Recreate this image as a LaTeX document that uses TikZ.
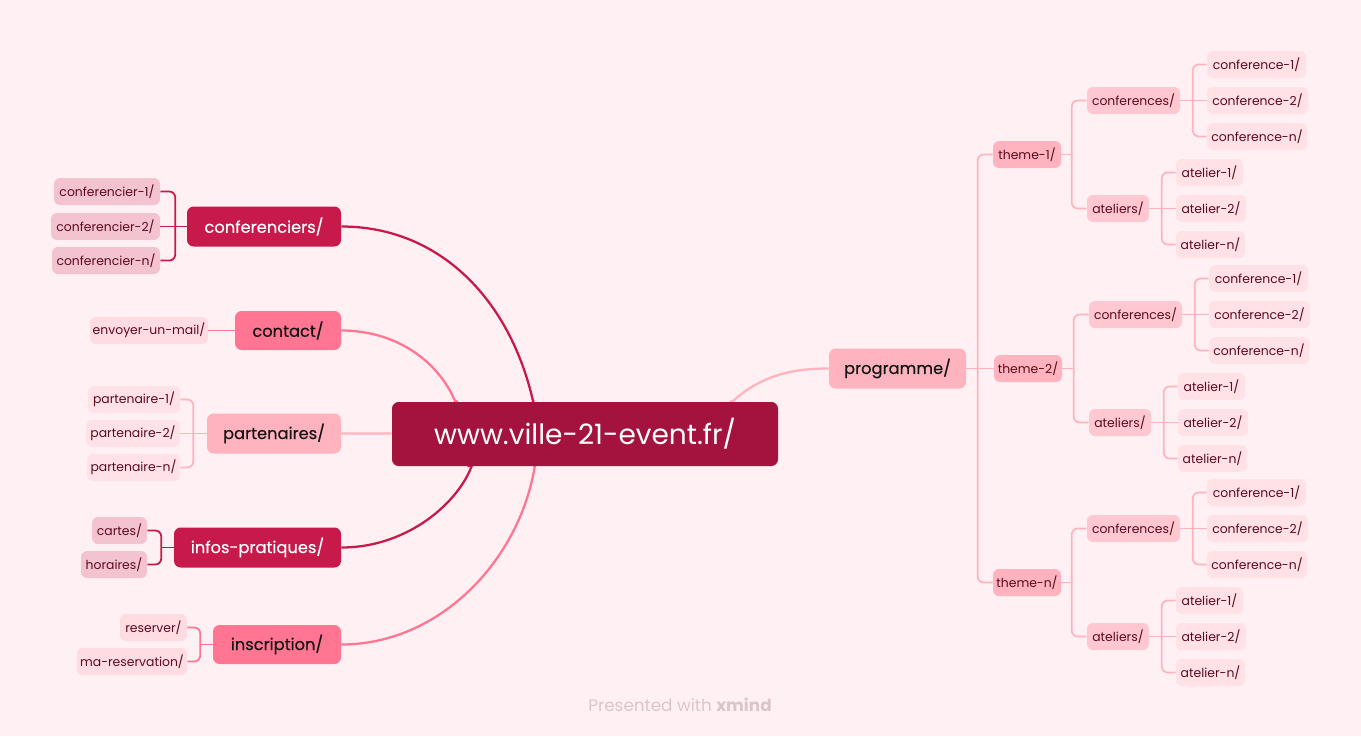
\documentclass[tikz,border=0pt]{standalone}
\usepackage{fontspec}
\newfontfamily\ff{Poppins}
\newfontfamily\ffm{Poppins}[FakeBold=0.35]
\newcommand\lfont{\ff\fontsize{9.3}{11}\selectfont}
\newcommand\mfont{\ffm\fontsize{12.2}{14}\selectfont}
\newcommand\cfont{\ff\fontsize{21}{24}\selectfont}
\newcommand\footfont{\ff\fontsize{12.6}{14}\selectfont}
\definecolor{bgc}{HTML}{FFF0F3}
\definecolor{cC}{HTML}{A3133E}
\definecolor{dark}{HTML}{C8194B}
\definecolor{mid}{HTML}{FF7592}
\definecolor{light}{HTML}{FFB3BF}
\definecolor{lvlA}{HTML}{F3C3CF}
\definecolor{lvlB}{HTML}{FFDCE2}
\definecolor{lvlC}{HTML}{FFE2E7}
\definecolor{lvlD}{HTML}{FFC8D1}
\definecolor{lvlE}{HTML}{FFE1E6}
\definecolor{leaftext}{HTML}{5C0A1E}
\definecolor{maintext}{HTML}{141414}
\definecolor{footc}{HTML}{DCC5CA}
\pgfdeclarelayer{edges}
\pgfsetlayers{edges,main}
\tikzset{
  w/.style={minimum width=#1*0.75pt},
  leaf/.style={rounded corners=4.5pt, inner sep=0pt, minimum height=20.25pt, font=\lfont, text=leaftext},
  mainbox/.style={rounded corners=5pt, inner sep=0pt, minimum height=30pt, font=\mfont},
  curve/.style={line width=1.7pt},
  brk/.style={line width=1.3pt, rounded corners=4.5pt},
}
\begin{document}
\begin{tikzpicture}[x=0.75pt, y=-0.75pt]
\useasboundingbox (0,0) rectangle (1361,736);
\begin{pgfonlayer}{edges}
\fill[bgc] (0,0) rectangle (1361,736);
\end{pgfonlayer}
% root
\node[fill=cC, rounded corners=5pt, inner sep=0pt, w=386, minimum height=48pt, text=white, font=\cfont] (root) at (585,434) {www.ville-21-event.fr/};
% left main topics
\node[mainbox, fill=dark, text=white, w=154] (conf) at (264,226.5) {conferenciers/};
\node[mainbox, fill=mid, text=maintext, w=106, minimum height=29.25pt] (cont) at (288,330.5) {contact/};
\node[mainbox, fill=light, text=maintext, w=134] (part) at (274,433.5) {partenaires/};
\node[mainbox, fill=dark, text=white, w=167] (info) at (257.5,547.5) {infos-pratiques/};
\node[mainbox, fill=mid, text=maintext, w=128, minimum height=29.25pt] (insc) at (277,644.5) {inscription/};
\node[mainbox, fill=light, text=maintext, w=137] (prog) at (897.5,368.5) {programme/};
% left leaves
\node[leaf, fill=lvlA, w=106] (cf1) at (107,191.5) {conferencier-1/};
\node[leaf, fill=lvlA, w=109] (cf2) at (105.5,226.5) {conferencier-2/};
\node[leaf, fill=lvlA, w=108] (cf3) at (106,260.5) {conferencier-n/};
\node[leaf, fill=lvlB, w=118] (mail) at (149,330.5) {envoyer-un-mail/};
\node[leaf, fill=lvlC, w=92] (p1) at (134,399.5) {partenaire-1/};
\node[leaf, fill=lvlC, w=94] (p2) at (133,433.5) {partenaire-2/};
\node[leaf, fill=lvlC, w=93] (p3) at (133.5,467.5) {partenaire-n/};
\node[leaf, fill=lvlA, w=55] (cart) at (119.5,530.5) {cartes/};
\node[leaf, fill=lvlA, w=66] (hora) at (114,564.5) {horaires/};
\node[leaf, fill=lvlB, w=67] (resv) at (153.5,627.5) {reserver/};
\node[leaf, fill=lvlB, w=110] (mres) at (132,661.5) {ma-reservation/};
% edges from root
\begin{pgfonlayer}{edges}
\draw[curve, dark] (conf.east) .. controls (440,226.5) and (510,300) .. (533,401) -- (root);
\draw[curve, mid] (cont.east) .. controls (400,330.5) and (440,365) .. (455,401) -- (root);
\draw[curve, light] (part.east) -- (root);
\draw[curve, dark] (info.east) .. controls (410,547.5) and (460,500) .. (472,465) -- (root);
\draw[curve, mid] (insc.east) .. controls (440,644.5) and (520,560) .. (535,465) -- (root);
\draw[curve, light] (prog.west) .. controls (800,368.5) and (765,372) .. (733,401) -- (root);
% left brackets
\draw[brk, dark] (cf1.east) -- ++(15,0) |- (cf3.east);
\draw[brk, dark] (conf.west) -- (cf2.east);
\draw[brk, mid] (cont.west) -- (mail.east);
\draw[brk, light] (p1.east) -- ++(13,0) |- (p3.east);
\draw[brk, light] (part.west) -- (p2.east);
\draw[brk, dark] (cart.east) -- ++(14,0) |- (hora.east);
\draw[brk, dark] (info.west) -- ++(-13,0);
\draw[brk, mid] (resv.east) -- ++(13,0) |- (mres.east);
\draw[brk, mid] (insc.west) -- ++(-13,0);
\end{pgfonlayer}
% right side
\foreach \k/\o/\s/\lab in {1/0/0/1, 2/214/2/2, 3/428/0/n}{
  \node[leaf, fill=light, w=68] (t\k) at (1027+\s/2,154.5+\o) {theme-\lab/};
  \node[leaf, fill=lvlD, w=93] (c\k) at (1133.5+\s,100.5+\o) {conferences/};
  \node[leaf, fill=lvlD, w=62] (a\k) at (1118+\s,208.5+\o) {ateliers/};
  \node[leaf, fill=lvlE, w=99] (c\k x1) at (1256.5+\s,64.5+\o) {conference-1/};
  \node[leaf, fill=lvlE, w=101] (c\k x2) at (1257.5+\s,100.5+\o) {conference-2/};
  \node[leaf, fill=lvlE, w=100] (c\k x3) at (1257+\s,136.5+\o) {conference-n/};
  \node[leaf, fill=lvlE, w=67] (a\k x1) at (1209.5+\s,172.5+\o) {atelier-1/};
  \node[leaf, fill=lvlE, w=70] (a\k x2) at (1211+\s,208.5+\o) {atelier-2/};
  \node[leaf, fill=lvlE, w=69] (a\k x3) at (1210.5+\s,244.5+\o) {atelier-n/};
  \begin{pgfonlayer}{edges}
  \draw[brk, light] (c\k.west) -- ++(-15,0) |- (a\k.west);
  \draw[brk, light] (t\k.east) -- ++(12,0);
  \draw[brk, light] (c\k x1.west) -- ++(-14,0) |- (c\k x3.west);
  \draw[brk, light] (c\k.east) -- (c\k x2.west);
  \draw[brk, light] (a\k x1.west) -- ++(-14,0) |- (a\k x3.west);
  \draw[brk, light] (a\k.east) -- (a\k x2.west);
  \end{pgfonlayer}
}
\begin{pgfonlayer}{edges}
\draw[brk, light] (t1.west) -- ++(-15,0) |- (t3.west);
\draw[brk, light] (prog.east) -- (t2.west);
\end{pgfonlayer}
% footer
\node[font=\footfont, text=footc] (foot) at (680,705) {Presented with \textbf{xmind}};
\end{tikzpicture}
\end{document}
